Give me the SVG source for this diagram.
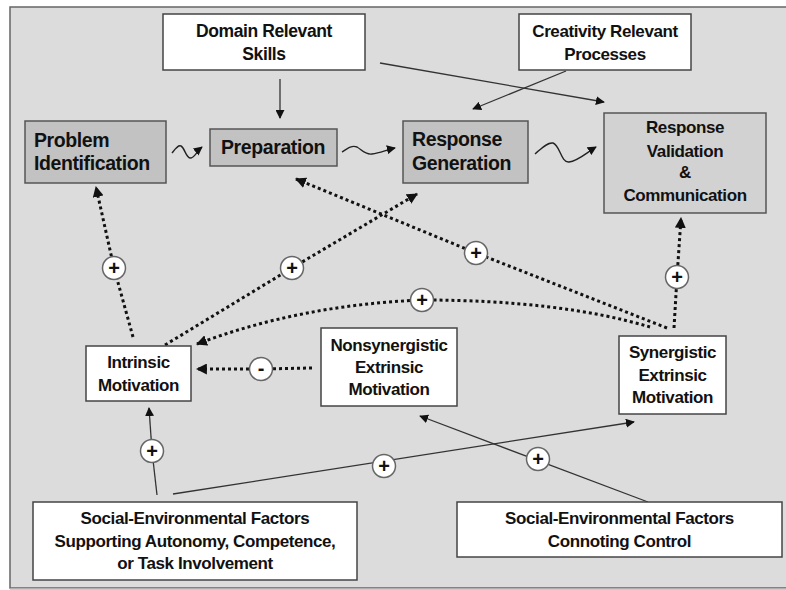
<svg xmlns="http://www.w3.org/2000/svg" width="786" height="590" viewBox="0 0 786 590">
<defs>
<marker id="ah" viewBox="0 0 10 10" refX="9" refY="5" markerWidth="9" markerHeight="9" markerUnits="userSpaceOnUse" orient="auto"><path d="M0,0 L10,5 L0,10 z" fill="#111"/></marker>
<marker id="ahd" viewBox="0 0 10 10" refX="9" refY="5" markerWidth="11" markerHeight="11" markerUnits="userSpaceOnUse" orient="auto"><path d="M0,0 L10,5 L0,10 z" fill="#111"/></marker>
<style>
.t{font-family:"Liberation Sans",Arial,sans-serif;font-weight:bold;fill:#111;letter-spacing:-0.4px}
.c{text-anchor:middle}
.wb{fill:#fff;stroke:#444;stroke-width:1.5}
.gb{fill:#c2c2c2;stroke:#555;stroke-width:1.5}
.lb{fill:#d2d2d2;stroke:#555;stroke-width:1.5}
.sol{fill:none;stroke:#333;stroke-width:1.3;marker-end:url(#ah)}
.solp{fill:none;stroke:#333;stroke-width:1.3}
.dot{fill:none;stroke:#111;stroke-width:3;stroke-dasharray:3 3;marker-end:url(#ahd)}
.dotp{fill:none;stroke:#111;stroke-width:3;stroke-dasharray:3 3}
.wave{fill:none;stroke:#222;stroke-width:1.4;marker-end:url(#ah)}
.sg circle{fill:#fff;stroke:#666;stroke-width:1.5}
.sg text{font-family:"Liberation Sans",Arial,sans-serif;font-weight:bold;font-size:20px;text-anchor:middle;fill:#111}
</style>
</defs>
<rect x="0" y="0" width="786" height="590" fill="#fff"/>
<rect x="10" y="7" width="790" height="581" fill="#dcdcdc" stroke="#666" stroke-width="1.5"/>
<line x1="10" y1="589" x2="786" y2="589" stroke="#bbb" stroke-width="1.5"/>

<g id="connectors">
<line class="sol" x1="280" y1="79" x2="280" y2="118"/>
<line class="sol" x1="380" y1="63" x2="604" y2="102"/>
<line class="sol" x1="566" y1="71" x2="473" y2="109"/>
<path class="wave" d="M172,153 C176,148 178,145 181,146 C185,148 186,159 191,158 C195,157 197,151 202,147"/>
<path class="wave" d="M342,152 C348,148 352,145 357,147 C362,150 365,155 372,154 C380,153 386,150 395,148"/>
<path class="wave" d="M535,154 C541,149 547,142 553,143 C560,145 561,163 569,162 C578,161 586,153 596,147"/>
<line class="dotp" x1="133" y1="337" x2="114" y2="268"/>
<line class="dot" x1="114" y1="268" x2="96" y2="187"/>
<line class="dotp" x1="165" y1="345" x2="292" y2="268"/>
<line class="dot" x1="292" y1="268" x2="417" y2="194"/>
<line class="dotp" x1="667" y1="328" x2="476" y2="253"/>
<line class="dot" x1="476" y1="253" x2="296" y2="179"/>
<path class="dotp" d="M650,327 Q560,300 422,300"/>
<path class="dot" d="M422,300 Q300,305 197,344"/>
<line class="dotp" x1="674" y1="328" x2="677" y2="277"/>
<line class="dot" x1="677" y1="277" x2="681" y2="218"/>
<line class="dotp" x1="312" y1="368" x2="261" y2="369"/>
<line class="dot" x1="261" y1="369" x2="197" y2="369"/>
<line class="solp" x1="157" y1="495" x2="152" y2="451"/>
<line class="sol" x1="152" y1="451" x2="149" y2="408"/>
<line class="sol" x1="173" y1="494" x2="634" y2="422"/>
<line class="sol" x1="648" y1="502" x2="420" y2="416"/>
</g>

<g id="signs" class="sg">
<g><circle cx="114" cy="268" r="11.5"/><text x="114" y="275">+</text></g>
<g><circle cx="292" cy="268" r="11.5"/><text x="292" y="275">+</text></g>
<g><circle cx="476" cy="253" r="11.5"/><text x="476" y="260">+</text></g>
<g><circle cx="422" cy="300" r="11.5"/><text x="422" y="307">+</text></g>
<g><circle cx="677" cy="277" r="11.5"/><text x="677" y="284">+</text></g>
<g><circle cx="261" cy="369" r="11.5"/><text x="261" y="375">-</text></g>
<g><circle cx="152" cy="451" r="11.5"/><text x="152" y="458">+</text></g>
<g><circle cx="384" cy="466" r="11.5"/><text x="384" y="473">+</text></g>
<g><circle cx="538" cy="459" r="11.5"/><text x="538" y="466">+</text></g>
</g>

<g id="domain"><rect class="wb" x="163" y="14" width="202" height="56"/>
<text class="t c" font-size="17.5" x="264" y="37">Domain Relevant</text><text class="t c" font-size="17.5" x="264" y="60">Skills</text></g>
<g id="creativity"><rect class="wb" x="519" y="14" width="172" height="56"/>
<text class="t c" font-size="17" x="605" y="37">Creativity Relevant</text><text class="t c" font-size="17" x="605" y="60">Processes</text></g>
<g id="problem"><rect class="gb" x="25" y="121" width="141" height="62"/>
<text class="t" font-size="19.5" x="34" y="147">Problem</text><text class="t" font-size="19.5" x="34" y="170">Identification</text></g>
<g id="preparation"><rect class="gb" x="210" y="129" width="127" height="37"/>
<text class="t c" font-size="19.5" x="273" y="154">Preparation</text></g>
<g id="generation"><rect class="gb" x="403" y="121" width="125" height="62"/>
<text class="t" font-size="19.5" x="412" y="146">Response</text><text class="t" font-size="19.5" x="412" y="170">Generation</text></g>
<g id="validation"><rect class="lb" x="604" y="113" width="162" height="100"/>
<text class="t c" font-size="17" x="685" y="133">Response</text><text class="t c" font-size="17" x="685" y="157">Validation</text><text class="t c" font-size="17" x="685" y="178">&amp;</text><text class="t c" font-size="17" x="685" y="201">Communication</text></g>
<g id="intrinsic"><rect class="wb" x="86" y="346" width="105" height="55"/>
<text class="t c" font-size="17" x="138.5" y="368">Intrinsic</text><text class="t c" font-size="17" x="138.5" y="391">Motivation</text></g>
<g id="nonsynergistic"><rect class="wb" x="321" y="328" width="136" height="78"/>
<text class="t c" font-size="17" x="389" y="351">Nonsynergistic</text><text class="t c" font-size="17" x="389" y="373">Extrinsic</text><text class="t c" font-size="17" x="389" y="395">Motivation</text></g>
<g id="synergistic"><rect class="wb" x="619" y="336" width="107" height="78"/>
<text class="t c" font-size="17" x="672.5" y="358">Synergistic</text><text class="t c" font-size="17" x="672.5" y="381">Extrinsic</text><text class="t c" font-size="17" x="672.5" y="403">Motivation</text></g>
<g id="social-support"><rect class="wb" x="33" y="502" width="324" height="78"/>
<text class="t c" font-size="17" x="195" y="524">Social-Environmental Factors</text><text class="t c" font-size="17" x="195" y="547">Supporting Autonomy, Competence,</text><text class="t c" font-size="17" x="195" y="569">or Task Involvement</text></g>
<g id="social-control"><rect class="wb" x="457" y="502" width="325" height="55"/>
<text class="t c" font-size="17" x="619.5" y="524">Social-Environmental Factors</text><text class="t c" font-size="17" x="619.5" y="547">Connoting Control</text></g>
</svg>
